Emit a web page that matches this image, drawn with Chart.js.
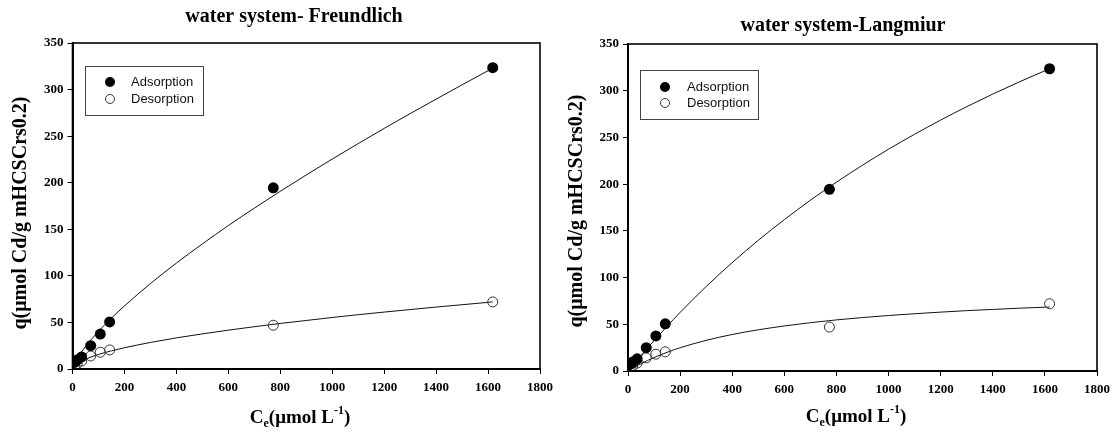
<!DOCTYPE html>
<html><head><meta charset="utf-8">
<script src="https://cdn.jsdelivr.net/npm/chart.js@4"></script>
<style>
html,body{margin:0;padding:0;background:#fff;}
#wrap{position:relative;width:1114px;height:434px;overflow:hidden;}
.c{position:absolute;top:0;width:557px;height:434px;}
</style></head><body>
<div id="wrap">
<div class="c" style="left:0"><canvas id="c1" width="557" height="434"></canvas></div>
<div class="c" style="left:557px"><canvas id="c2" width="557" height="434"></canvas></div>
</div>
<script>
// ---- data ----
const adsX = [8, 20, 35, 70, 107, 143, 773, 1618];
const adsY = [7, 10, 13, 25, 37.5, 50.5, 194.5, 323.5];
const desX = [8, 18, 35, 70, 107, 143, 773, 1618];
const desY = [3, 5.5, 8.5, 14, 18, 20.5, 47, 72];
// fitted curves
const fitX = [5, 10, 25, 50, 100, 150, 200, 300, 400, 500, 600, 700, 800, 900, 1000, 1100, 1200, 1300, 1400, 1500, 1618];
const freundAdsFit = [4.3, 7.2, 14.3, 24.0, 40.4, 54.6, 67.7, 91.7, 113.7, 134.3, 154.0, 172.7, 190.8, 208.3, 225.4, 242.0, 258.3, 274.2, 289.7, 305.1, 323];
const freundDesFit = [3.0, 4.4, 7.3, 10.6, 15.6, 19.5, 22.8, 28.5, 33.4, 37.7, 41.7, 45.4, 48.9, 52.1, 55.3, 58.3, 61.1, 63.8, 66.5, 69.0, 72];
const langAdsFit = [1.7, 3.4, 8.4, 16.7, 32.6, 47.9, 62.7, 90.4, 116.0, 139.9, 162.0, 182.8, 202.1, 220.3, 237.4, 253.4, 268.6, 282.9, 296.4, 309.2, 323.5];
const langDesFit = [0.85, 1.7, 4.1, 7.8, 14.4, 20.0, 24.9, 32.8, 39.1, 44.1, 48.2, 51.7, 54.7, 57.2, 59.4, 61.3, 63.0, 64.6, 65.9, 67.2, 68.5];
const xTicks = [0, 200, 400, 600, 800, 1000, 1200, 1400, 1600, 1800];
const yTicks = [0, 50, 100, 150, 200, 250, 300, 350];
const seriesNames = ['Adsorption', 'Desorption'];
const titles = ['water system- Freundlich', 'water system-Langmiur'];
const yTitle = 'q(\u03bcmol Cd/g mHCSCrs0.2)';

const pts = (xs, ys) => xs.map((x, i) => ({x, y: ys[i]}));
const SERIF = '"Liberation Serif", "Times New Roman", serif';
const SANS = '"Liberation Sans", Arial, sans-serif';

function deco(cfg) {
  return {
    id: 'deco',
    afterDraw(chart) {
      const {ctx, chartArea: a} = chart;
      ctx.save();
      ctx.strokeStyle = '#000';
      ctx.lineWidth = 1.6;
      ctx.strokeRect(a.left, a.top, a.right - a.left, a.bottom - a.top);
      ctx.fillStyle = '#000';
      ctx.textAlign = 'center';
      ctx.textBaseline = 'middle';
      // title
      ctx.font = 'bold 20px ' + SERIF;
      ctx.fillText(cfg.title, cfg.titleX, cfg.titleY);
      // y title
      ctx.save();
      ctx.translate(cfg.yTitleX, cfg.yTitleY);
      ctx.rotate(-Math.PI / 2);
      ctx.font = 'bold 20px ' + SERIF;
      ctx.fillText(yTitle, 0, 0);
      ctx.restore();
      // x title with subscript / superscript
      const big = 'bold 19px ' + SERIF, small = 'bold 12px ' + SERIF;
      const parts = [['C', big, 0], ['e', small, 6], ['(\u03bcmol L', big, 0], ['-1', small, -7], [')', big, 0]];
      let w = 0;
      parts.forEach(p => { ctx.font = p[1]; w += ctx.measureText(p[0]).width; });
      let x = cfg.xTitleX - w / 2;
      ctx.textAlign = 'left';
      parts.forEach(p => { ctx.font = p[1]; ctx.fillText(p[0], x, cfg.xTitleY + p[2]); x += ctx.measureText(p[0]).width; });
      // legend
      const L = cfg.legend;
      ctx.strokeStyle = '#444';
      ctx.lineWidth = 1;
      ctx.strokeRect(L.x + 0.5, L.y + 0.5, L.w, L.h);
      ctx.beginPath(); ctx.arc(L.mx, L.r1, 5, 0, Math.PI * 2); ctx.fillStyle = '#000'; ctx.fill();
      ctx.beginPath(); ctx.arc(L.mx, L.r2, 4.5, 0, Math.PI * 2); ctx.strokeStyle = '#333'; ctx.stroke();
      ctx.fillStyle = '#111';
      ctx.font = '13px ' + SANS;
      ctx.fillText(seriesNames[0], L.tx, L.r1);
      ctx.fillText(seriesNames[1], L.tx, L.r2);
      ctx.restore();
    }
  };
}

function makeChart(id, adsFit, desFit, cfg) {
  const tickFont = {family: SERIF, weight: 'bold', size: 13};
  new Chart(document.getElementById(id), {
    type: 'scatter',
    data: {
      datasets: [
        {label: seriesNames[0], data: pts(adsX, adsY), pointRadius: 5.5, pointBackgroundColor: '#000', pointBorderColor: '#000', pointBorderWidth: 0, showLine: false, order: 0},
        {label: seriesNames[1], data: pts(desX, desY), pointRadius: 5, pointBackgroundColor: 'rgba(0,0,0,0)', pointBorderColor: '#333', pointBorderWidth: 1, showLine: false, order: 1},
        {label: 'fit1', data: pts(fitX, adsFit), showLine: true, pointRadius: 0, borderColor: '#111', borderWidth: 1, tension: 0.4, cubicInterpolationMode: 'monotone', order: 2},
        {label: 'fit2', data: pts(fitX, desFit), showLine: true, pointRadius: 0, borderColor: '#111', borderWidth: 1, tension: 0.4, cubicInterpolationMode: 'monotone', order: 3}
      ]
    },
    options: {
      responsive: false,
      animation: false,
      devicePixelRatio: 1,
      layout: {padding: {left: 0, right: cfg.padRight, top: cfg.top, bottom: 0}},
      plugins: {legend: {display: false}, tooltip: {enabled: false}, title: {display: false}},
      scales: {
        x: {
          type: 'linear', min: 0, max: 1800,
          afterBuildTicks: s => { s.ticks = xTicks.map(v => ({value: v})); },
          afterFit: s => { s.height = cfg.xHeight; s.paddingRight = 0; s.paddingLeft = 0; },
          ticks: {color: '#000', font: tickFont, padding: 6, maxRotation: 0, callback: v => String(v)},
          grid: {display: true, drawOnChartArea: false, drawTicks: true, tickLength: 5, color: '#000', lineWidth: 1},
          border: {display: true, color: '#000', width: 2}
        },
        y: {
          type: 'linear', min: 0, max: 350,
          afterBuildTicks: s => { s.ticks = yTicks.map(v => ({value: v})); },
          afterFit: s => { s.width = cfg.yWidth; s.paddingTop = 0; s.paddingBottom = 0; },
          ticks: {color: '#000', font: tickFont, padding: 4, callback: v => String(v)},
          grid: {display: true, drawOnChartArea: false, drawTicks: true, tickLength: 5, color: '#000', lineWidth: 1},
          border: {display: true, color: '#000', width: 2}
        }
      }
    },
    plugins: [deco(cfg)]
  });
}

makeChart('c1', freundAdsFit, freundDesFit, {
  title: titles[0], titleX: 294, titleY: 17,
  yTitleX: 21, yTitleY: 213, xTitleX: 300, xTitleY: 418,
  padRight: 17, top: 43, xHeight: 65, yWidth: 72.5,
  legend: {x: 85, y: 66, w: 118, h: 49, mx: 110, r1: 82, r2: 99, tx: 131}
});
makeChart('c2', langAdsFit, langDesFit, {
  title: titles[1], titleX: 286, titleY: 26,
  yTitleX: 20, yTitleY: 211, xTitleX: 299, xTitleY: 417,
  padRight: 17, top: 44, xHeight: 63, yWidth: 71,
  legend: {x: 83, y: 70, w: 118, h: 49, mx: 108, r1: 87, r2: 103, tx: 130}
});
</script>
</body></html>
